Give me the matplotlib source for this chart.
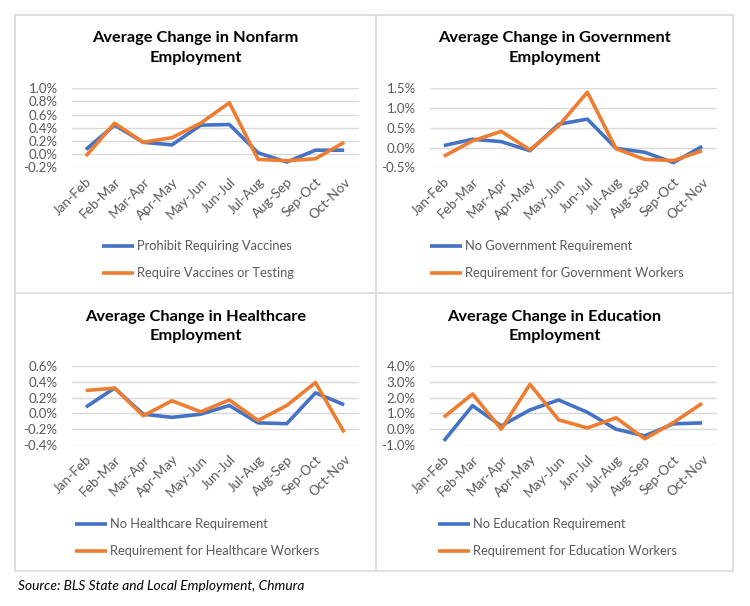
import matplotlib
matplotlib.use("Agg")
import matplotlib.pyplot as plt
from matplotlib.patches import Rectangle
from matplotlib.ticker import FuncFormatter, MultipleLocator

plt.rcParams['font.family'] = ['Lato', 'DejaVu Sans']

categories = ["Jan-Feb", "Feb-Mar", "Mar-Apr", "Apr-May", "May-Jun",
              "Jun-Jul", "Jul-Aug", "Aug-Sep", "Sep-Oct", "Oct-Nov"]

nonfarm_prohibit = [0.07, 0.44, 0.18, 0.14, 0.44, 0.45, 0.02, -0.12, 0.06, 0.06]
nonfarm_require = [-0.03, 0.47, 0.18, 0.25, 0.47, 0.78, -0.08, -0.10, -0.07, 0.18]

gov_no = [0.05, 0.21, 0.15, -0.08, 0.59, 0.72, -0.02, -0.12, -0.38, 0.03]
gov_req = [-0.22, 0.17, 0.41, -0.06, 0.55, 1.40, -0.03, -0.30, -0.33, -0.08]

health_no = [0.08, 0.32, -0.01, -0.05, -0.01, 0.10, -0.12, -0.13, 0.26, 0.11]
health_req = [0.29, 0.32, -0.03, 0.16, 0.02, 0.17, -0.09, 0.10, 0.39, -0.24]

edu_no = [-0.74, 1.49, 0.21, 1.22, 1.85, 1.07, 0.00, -0.42, 0.34, 0.40]
edu_req = [0.76, 2.23, 0.00, 2.84, 0.59, 0.08, 0.72, -0.61, 0.42, 1.64]

panels = [
    dict(title="Average Change in Nonfarm\nEmployment",
         series=[("Prohibit Requiring Vaccines", nonfarm_prohibit),
                 ("Require Vaccines or Testing", nonfarm_require)],
         ylim=(-0.2, 1.0), step=0.2),
    dict(title="Average Change in Government\nEmployment",
         series=[("No Government Requirement", gov_no),
                 ("Requirement for Government Workers", gov_req)],
         ylim=(-0.5, 1.5), step=0.5),
    dict(title="Average Change in Healthcare\nEmployment",
         series=[("No Healthcare Requirement", health_no),
                 ("Requirement for Healthcare Workers", health_req)],
         ylim=(-0.4, 0.6), step=0.2),
    dict(title="Average Change in Education\nEmployment",
         series=[("No Education Requirement", edu_no),
                 ("Requirement for Education Workers", edu_req)],
         ylim=(-1.0, 4.0), step=1.0),
]

W, H = 750, 606
fig = plt.figure(figsize=(W / 100, H / 100), dpi=100)

BLUE = "#4472C4"
ORANGE = "#ED7D31"
GRID = "#D9D9D9"
TXT = "#595959"

def fx(px):
    return px / W

def fy(py):
    return 1 - py / H

# borders
border_ax = fig.add_axes([0, 0, 1, 1], zorder=-1)
border_ax.set_xlim(0, W)
border_ax.set_ylim(H, 0)
border_ax.axis("off")
border_ax.add_patch(Rectangle((15, 15), 718, 556, fill=False, ec=GRID, lw=1.2))
border_ax.plot([376, 376], [15, 571], color=GRID, lw=1.2)
border_ax.plot([15, 733], [293, 293], color=GRID, lw=1.2)

# axes geometry (px)
ax_lefts = [71.5, 429.5, 71.5, 429.5]
ax_width = 287
ax_tops = [88.3, 88.3, 366, 366]
ax_height = 79
title_cx = [195.5, 554.5, 195.5, 554.5]
title_y = [48, 48, 326.5, 326.5]
leg_x = [102, 430, 75, 438]
leg_y = [246, 246, 524, 524]

for i, p in enumerate(panels):
    ax = fig.add_axes([fx(ax_lefts[i]), fy(ax_tops[i] + ax_height),
                       fx(ax_width), ax_height / H])
    x = list(range(len(categories)))
    colors = [BLUE, ORANGE]
    for (label, vals), c in zip(p["series"], colors):
        ax.plot(x, vals, color=c, lw=2.6, label=label,
                solid_joinstyle="round", solid_capstyle="butt")
    ax.set_xlim(-0.5, len(categories) - 0.5)
    ax.set_ylim(*p["ylim"])
    ax.yaxis.set_major_locator(MultipleLocator(p["step"]))
    ax.yaxis.set_major_formatter(FuncFormatter(lambda v, pos: f"{v:.1f}%"))
    ax.grid(axis="y", color=GRID, lw=1)
    ax.set_axisbelow(True)
    for s in ax.spines.values():
        s.set_visible(False)
    ax.tick_params(axis="both", length=0, colors=TXT, labelsize=9.5)
    ax.tick_params(axis="y", pad=10)
    ax.set_xticks(x)
    ax.set_xticklabels(categories, rotation=45, ha="right",
                       rotation_mode="anchor", color=TXT, fontsize=9.7)
    ax.tick_params(axis="x", pad=6)
    fig.text(fx(title_cx[i]), fy(title_y[i]), p["title"], ha="center",
             va="center", fontsize=11.8, fontweight="bold", color="black",
             linespacing=1.5)
    # legend
    for j, (label, vals) in enumerate(p["series"]):
        yy = leg_y[i] + j * 27
        border_ax.plot([leg_x[i], leg_x[i] + 32], [yy, yy], color=colors[j],
                       lw=2.6, solid_capstyle="butt")
        border_ax.text(leg_x[i] + 35, yy, label, va="center", ha="left",
                       fontsize=9.3, color=TXT)

fig.text(fx(18), fy(586), "Source: BLS State and Local Employment, Chmura",
         ha="left", va="center", fontsize=9.9, style="italic", color="black")

fig.savefig("out.png", dpi=100)
